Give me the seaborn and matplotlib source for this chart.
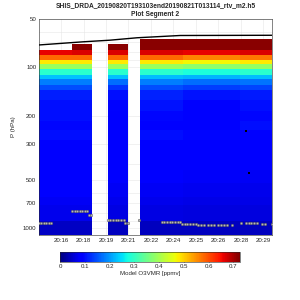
import numpy as np
import pandas as pd
import seaborn as sns
import matplotlib
matplotlib.use("Agg")
import matplotlib.pyplot as plt

# time in minutes after 20:00, pressure in hPa
time_edges = [14.88, 17.01, 18.3, 19.33, 20.62, 21.4, 24.17, 27.85, 29.91]
p_edges = [66.2, 71.1, 77.5, 83.3, 89.5, 96, 103, 111, 119, 128, 138, 159, 188,
           215, 245, 283, 351, 436, 526, 640, 720, 905, 1100]

nan = np.nan
prof_a1 = [nan, nan, 0.66, 0.58, 0.48, 0.39, 0.29, 0.23, 0.18, 0.145, 0.112, 0.102,
           0.1, 0.095, 0.1, 0.09, 0.088, 0.085, 0.08, 0.075, 0.07, 0.045]
prof_a2 = [nan, 0.72, 0.67, 0.58, 0.48, 0.39, 0.29, 0.23, 0.18, 0.145, 0.112, 0.102,
           0.1, 0.095, 0.1, 0.09, 0.088, 0.085, 0.08, 0.075, 0.07, 0.045]
prof_gap = [nan] * 22
prof_b = [nan, 0.72, 0.67, 0.58, 0.48, 0.39, 0.29, 0.23, 0.17, 0.13, 0.1, 0.092,
          0.088, 0.085, 0.09, 0.085, 0.082, 0.08, 0.076, 0.07, 0.065, 0.042]
prof_c1 = [0.72, 0.72, 0.67, 0.58, 0.48, 0.39, 0.29, 0.225, 0.18, 0.145, 0.115, 0.105,
           0.095, 0.09, 0.1, 0.09, 0.085, 0.08, 0.075, 0.07, 0.064, 0.04]
prof_c2 = [0.72, 0.72, 0.66, 0.56, 0.47, 0.38, 0.28, 0.22, 0.17, 0.135, 0.105, 0.09,
           0.088, 0.085, 0.095, 0.085, 0.08, 0.078, 0.072, 0.066, 0.06, 0.04]
prof_c3 = [0.72, 0.72, 0.67, 0.57, 0.48, 0.385, 0.29, 0.225, 0.175, 0.14, 0.11, 0.1,
           0.095, 0.1, 0.09, 0.082, 0.08, 0.075, 0.07, 0.066, 0.06, 0.04]
profiles = [prof_a1, prof_a2, prof_gap, prof_b, prof_gap, prof_c1, prof_c2, prof_c3]

# surface points
sfc_t = [14.88, 15.04, 15.2, 15.36, 15.52, 15.68,
         17.0, 17.17, 17.34, 17.51, 17.68, 17.85, 18.0, 18.08, 18.22,
         19.31, 19.48, 19.65, 19.82, 19.99, 20.16, 20.33, 20.43, 20.6, 21.35,
         22.8, 22.97, 23.14, 23.31, 23.48, 23.65, 23.82, 23.99,
         24.09, 24.27, 24.45, 24.63, 24.81, 24.99,
         25.12, 25.33, 25.54, 25.75, 25.96,
         26.19, 26.39, 26.59, 26.79, 26.99, 27.35, 27.89,
         28.24, 28.4, 28.56, 28.72, 28.92, 29.29, 29.45, 29.89]
sfc_p = [922] * 6 + [780] * 7 + [830] * 2 + [890] * 7 + [930] * 2 + [888] + \
        [909] * 8 + [940] * 6 + [950] * 5 + [950] * 5 + [950, 930] + [930] * 5 + [935] * 3

dot_t = [28.24, 28.41]
dot_p = [248, 453]

line_t = [14.88, 17.72, 19.46, 21.2, 23.98, 29.91]
line_p = [72.6, 69.4, 67.8, 65.5, 63.4, 63.2]

tick_pos = [16.3, 17.75, 19.2, 20.65, 22.1, 23.55, 25.0, 26.45, 27.9, 29.35]
tick_labels = ["20:16", "20:18", "20:19", "20:21", "20:22", "20:24", "20:25",
               "20:26", "20:28", "20:29"]

sns.set_style("white")
plt.rcParams["font.family"] = ["Liberation Sans", "DejaVu Sans"]
fs = 4.4

fig = plt.figure(figsize=(3, 3), dpi=100)
ax = fig.add_axes([0.13, 0.217, 0.777, 0.72])
cax = fig.add_axes([0.2, 0.128, 0.6, 0.033])

Z = np.array(profiles).T
mesh = ax.pcolormesh(time_edges, p_edges, np.ma.masked_invalid(Z), cmap="jet",
                     vmin=0, vmax=0.727, shading="flat", zorder=1)

sns.lineplot(x=line_t, y=line_p, color="black", lw=1.0, ax=ax, zorder=3)
sns.scatterplot(x=sfc_t, y=sfc_p, marker="o", s=3.5, color="#b8b8b8",
                edgecolor="#4a4a4a", linewidth=0.3, ax=ax, zorder=4)
sns.scatterplot(x=dot_t, y=dot_p, marker="s", s=3.5, color="black",
                edgecolor="black", linewidth=0, ax=ax, zorder=4)

ax.set_yscale("log")
ax.set_ylim(1100, 50)
ax.set_xlim(14.88, 29.91)
ax.set_yticks([50, 100, 200, 300, 500, 700, 1000])
ax.set_yticklabels(["50", "100", "200", "300", "500", "700", "1000"])
ax.set_xticks(tick_pos)
ax.set_xticklabels(tick_labels)
ax.tick_params(labelsize=fs, direction="in", length=2, width=0.4, pad=2,
               colors="#262626", which="both")
ax.tick_params(which="minor", length=1)
ax.grid(True, which="both", color="#e6e6e6", lw=0.4)
ax.set_axisbelow(True)
for s in ax.spines.values():
    s.set_linewidth(0.4)
    s.set_color("#262626")
ax.set_ylabel("P (hPa)", fontsize=fs, labelpad=5)
ax.set_title("SHIS_DRDA_20190820T193103end20190821T013114_rtv_m2.h5\nPlot Segment 2",
             fontsize=4.8, fontweight="bold", pad=2, linespacing=1.3)

cb = fig.colorbar(mesh, cax=cax, orientation="horizontal")
cb.set_ticks([0, 0.1, 0.2, 0.3, 0.4, 0.5, 0.6, 0.7])
cb.set_ticklabels(["0", "0.1", "0.2", "0.3", "0.4", "0.5", "0.6", "0.7"])
cb.ax.tick_params(labelsize=fs, direction="in", length=2, width=0.4, pad=2,
                  colors="#262626")
cb.outline.set_linewidth(0.4)
cb.set_label("Model O3VMR [ppmv]", fontsize=fs, labelpad=1.5)

fig.savefig("out.png", dpi=100)
